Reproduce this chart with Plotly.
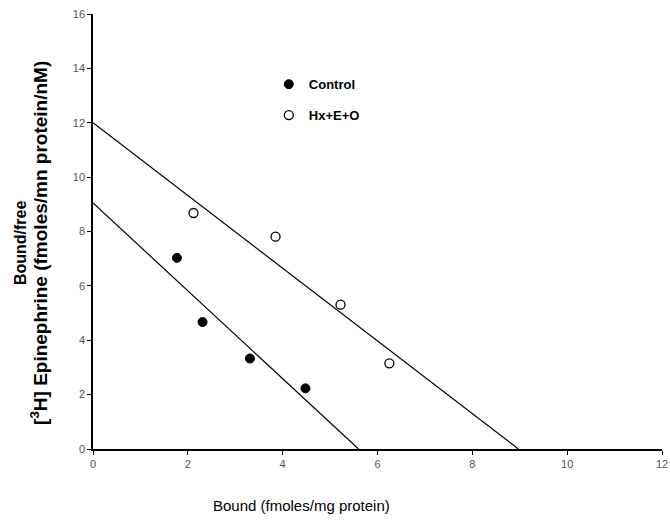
import plotly.graph_objects as go

# Data
control_x = [1.77, 2.31, 3.31, 4.48]
control_y = [7.03, 4.67, 3.33, 2.23]
hx_x = [2.12, 3.85, 5.22, 6.25]
hx_y = [8.68, 7.81, 5.31, 3.15]

control_fit_x = [0, 5.6]
control_fit_y = [9.05, 0]
hx_fit_x = [0, 8.97]
hx_fit_y = [12.0, 0]

x_ticks = [0, 2, 4, 6, 8, 10, 12]
y_ticks = [0, 2, 4, 6, 8, 10, 12, 14, 16]

fig = go.Figure()
fig.add_trace(go.Scatter(x=control_fit_x, y=control_fit_y, mode="lines",
                         line=dict(color="black", width=1.2), showlegend=False,
                         hoverinfo="skip"))
fig.add_trace(go.Scatter(x=hx_fit_x, y=hx_fit_y, mode="lines",
                         line=dict(color="black", width=1.2), showlegend=False,
                         hoverinfo="skip"))
fig.add_trace(go.Scatter(x=control_x, y=control_y, mode="markers", name="Control",
                         legendgroup="c",
                         marker=dict(symbol="circle", size=9, color="black",
                                     line=dict(color="black", width=1))))
fig.add_trace(go.Scatter(x=hx_x, y=hx_y, mode="markers", name="Hx+E+O",
                         legendgroup="h",
                         marker=dict(symbol="circle-open", size=9, color="black",
                                     line=dict(color="black", width=1.3))))

fig.add_annotation(text="Bound (fmoles/mg protein)", xref="paper", yref="paper",
                   x=0.366, y=-0.13, xanchor="center", yanchor="middle",
                   showarrow=False, font=dict(size=15, color="black"))

ytitle = ("<b>Bound/free</b><br><span style='font-size:19px'><b>[<sup>3</sup>H] Epinephrine "
          "(fmoles/mn protein/nM)</b></span>")
fig.add_annotation(text=ytitle, xref="paper", yref="paper",
                   x=-0.107, y=0.474, xanchor="center", yanchor="middle",
                   textangle=-90, showarrow=False,
                   font=dict(size=16, color="black"))

fig.update_layout(
    width=670, height=523,
    margin=dict(l=93, r=8, t=14, b=74),
    paper_bgcolor="white", plot_bgcolor="white",
    font=dict(family="Liberation Sans, Arial, sans-serif", color="black"),
    legend=dict(x=0.309, y=0.873, xanchor="left", yanchor="top",
                bgcolor="rgba(0,0,0,0)", itemwidth=30,
                traceorder="grouped", tracegroupgap=11,
                font=dict(size=13, weight="bold", color="black")),
    xaxis=dict(range=[0, 12], tickvals=x_ticks, showgrid=False, zeroline=False,
               showline=True, linecolor="black", linewidth=1.5,
               ticks="outside", ticklen=4, tickcolor="black", automargin=False,
               ticklabeloverflow="allow",
               tickfont=dict(size=11, color="#555")),
    yaxis=dict(range=[0, 16], tickvals=y_ticks, showgrid=False, zeroline=False,
               showline=True, linecolor="black", linewidth=1.5,
               ticks="outside", ticklen=4, tickcolor="black", automargin=False,
               ticklabeloverflow="allow",
               tickfont=dict(size=11, color="#555")),
)

fig.write_html("out.html", config={"displayModeBar": False},
               post_script="document.body.style.margin='0';")
